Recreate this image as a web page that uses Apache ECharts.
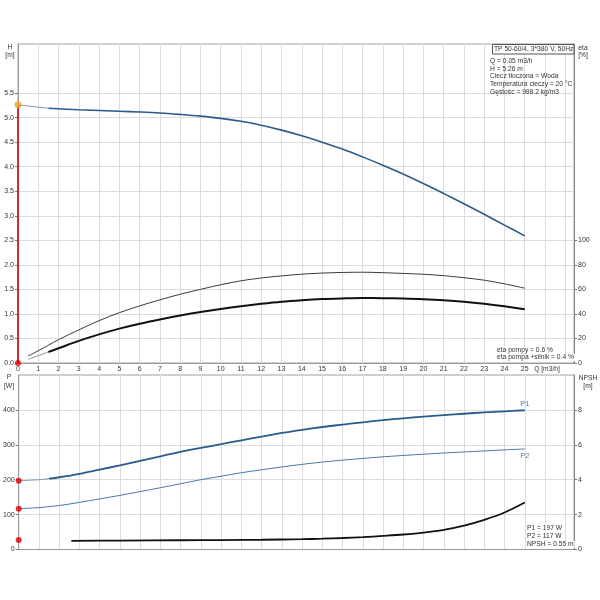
<!DOCTYPE html>
<html>
<head>
<meta charset="utf-8">
<script src="https://cdn.jsdelivr.net/npm/echarts@6/dist/echarts.min.js"></script>
<style>
  html, body { margin: 0; padding: 0; background: #fff; }
  #chart { width: 600px; height: 600px; }
</style>
</head>
<body>
<div id="chart"></div>
<script>
// Krzywe pompy
const qH = [0, 1.5, 3, 5, 6, 7, 8, 9, 10, 11, 12, 13, 14, 15, 16, 17, 18, 19, 20, 21, 22, 23, 24, 25];
const hVals = [5.26, 5.19, 5.16, 5.13, 5.115, 5.095, 5.065, 5.03, 4.985, 4.925, 4.845, 4.745, 4.63, 4.50, 4.36, 4.20, 4.03, 3.85, 3.655, 3.455, 3.245, 3.03, 2.81, 2.59];

const qEta = [0.5, 1, 1.5, 2, 3, 4, 5, 6, 7, 8, 9, 10, 11, 12, 13, 14, 15, 16, 17, 18, 19, 20, 21, 22, 23, 24, 25];
const etaPump = [5.7, 10, 14.5, 19, 27, 34.5, 41, 46.5, 51.5, 56, 60, 63.8, 67, 69.3, 71, 72.4, 73.3, 73.8, 74, 73.6, 73, 72.3, 71.2, 69.5, 67.5, 64.5, 61];
const etaTotal = [3, 6, 9, 12, 18, 23.3, 28, 32, 35.5, 38.7, 41.5, 44, 46.3, 48.3, 50, 51.2, 52.1, 52.6, 52.9, 52.8, 52.5, 52, 51.2, 50, 48.3, 46.2, 43.8];

const qP = [0, 1, 1.5, 2, 3, 4, 5, 6, 7, 8, 9, 10, 11, 12, 13, 14, 15, 16, 17, 18, 19, 20, 21, 22, 23, 24, 25];
const p1 = [197, 200, 203, 207, 217, 229, 241, 254, 267, 280, 291, 302, 313, 323.5, 334, 343, 351, 358, 364.5, 370.5, 376, 381, 385, 389, 393, 396, 399];
const p2 = [117, 120, 123, 126, 135, 145, 155, 166, 177, 188.5, 200, 210, 220, 228.5, 236.5, 244, 250.5, 256, 261, 265.5, 269.5, 273, 276.5, 279.5, 282.5, 285.5, 288];

const qN = [2.6, 5, 8, 10, 12, 14, 15, 16, 17, 18, 19, 20, 21, 22, 23, 24, 25];
const npsh = [0.5, 0.51, 0.53, 0.54, 0.56, 0.59, 0.62, 0.66, 0.71, 0.78, 0.86, 0.97, 1.13, 1.37, 1.70, 2.12, 2.69];

// punkt pracy
const dutyQ = 0;
const dutyH = 5.26;
const dutyP1 = 197;
const dutyP2 = 117;
const dutyNpsh = 0.55;

// opisane wartosci osi
const hTicks = [0, 0.5, 1, 1.5, 2, 2.5, 3, 3.5, 4, 4.5, 5, 5.5];
const etaTicks = [0, 20, 40, 60, 80, 100];
const pTicks = [0, 100, 200, 300, 400];
const npshTicks = [0, 2, 4, 6, 8];

const infoLines = [
  "Q = 0.05 m3/h",
  "H = 5.26 m",
  "Ciecz tłoczona = Woda",
  "Temperatura cieczy = 20 °C",
  "Gęstość = 998.2 kg/m3"
];
const etaLines = ["eta pompy = 0.6 %", "eta pompa +silnik = 0.4 %"];
const powerLines = ["P1 = 197 W", "P2 = 117 W", "NPSH = 0.55 m"];

const FONT = "'Liberation Sans', Arial, sans-serif";
const SMALL = `6.7px ${FONT}`;
const BLUE = "#2a5b8c";
const BLUE_LIGHT = "#4a77a6";
const GRID_LINE = "#dcdcdc";
const AXIS_LINE = "#9a9a9a";
const TXT = "#333";
const Q_MAX = 27.43;

const zip = (xs, ys) => xs.map((x, i) => [x, ys[i]]);

function xAxisFor(gridIndex, showLabels) {
  return {
    type: "value",
    gridIndex,
    min: 0,
    max: Q_MAX,
    interval: 1,
    axisLine: { show: true, lineStyle: { color: AXIS_LINE } },
    axisTick: { show: false },
    axisLabel: {
      show: showLabels,
      margin: 3,
      fontSize: 7,
      fontFamily: FONT,
      color: TXT,
      formatter: (v) => (v <= 25 && Number.isInteger(v) ? String(v) : "")
    },
    splitLine: { show: true, lineStyle: { color: GRID_LINE, width: 1 } }
  };
}

function yAxisFor(gridIndex, position, max, interval, ticks, fmt, split) {
  return {
    type: "value",
    gridIndex,
    position,
    min: 0,
    max,
    interval,
    axisLine: { show: true, lineStyle: { color: position === "right" ? "#888" : AXIS_LINE } },
    axisTick: { show: true, length: 3, customValues: ticks, lineStyle: { color: "#777" } },
    axisLabel: {
      margin: 4,
      fontSize: 7,
      fontFamily: FONT,
      color: TXT,
      customValues: ticks,
      formatter: (v) => fmt(v)
    },
    splitLine: { show: split, lineStyle: { color: GRID_LINE, width: 1 } }
  };
}

function line(name, data, xi, yi, color, width, extra) {
  return Object.assign({
    name,
    type: "line",
    xAxisIndex: xi,
    yAxisIndex: yi,
    data,
    smooth: 0.35,
    showSymbol: false,
    symbol: "none",
    silent: true,
    lineStyle: { color, width },
    z: 3
  }, extra || {});
}

function dot(data, xi, yi, color, size) {
  return {
    type: "scatter",
    xAxisIndex: xi,
    yAxisIndex: yi,
    data,
    symbolSize: size,
    itemStyle: { color },
    silent: true,
    z: 6
  };
}

function endTag(text, data, xi, yi, position) {
  return {
    type: "scatter",
    xAxisIndex: xi,
    yAxisIndex: yi,
    data,
    symbolSize: 1,
    itemStyle: { color: "rgba(0,0,0,0)" },
    silent: true,
    label: {
      show: true,
      position,
      distance: 2,
      formatter: text,
      fontSize: 7.5,
      fontFamily: FONT,
      color: BLUE
    },
    z: 6
  };
}

function label(text, x, y, align) {
  return { type: "text", x, y, z: 20, style: { text, font: SMALL, fill: TXT, align: align || "center", verticalAlign: "middle" } };
}

function textBlock(lines, x, y0, step, opts) {
  return lines.map((t, i) => ({
    type: "text",
    x,
    y: y0 + i * step,
    z: 20,
    style: Object.assign({
      text: t,
      font: SMALL,
      fill: TXT,
      verticalAlign: "middle"
    }, opts || {})
  }));
}

const chart = echarts.init(document.getElementById("chart"), null, { renderer: "canvas" });

const hThin = zip(qH.slice(0, 2), hVals.slice(0, 2));
const hThick = zip(qH.slice(1), hVals.slice(1));
const etaTotThin = zip(qEta.slice(0, 3), etaTotal.slice(0, 3));
const etaTotThick = zip(qEta.slice(2), etaTotal.slice(2));
const p1Thin = zip(qP.slice(0, 3), p1.slice(0, 3));
const p1Thick = zip(qP.slice(2), p1.slice(2));
const last = qP.length - 1;

chart.setOption({
  animation: false,
  backgroundColor: "#fff",
  grid: [
    { left: 18, right: 26, top: 44, height: 319, show: true, borderColor: "#a0a0a0", borderWidth: 1, containLabel: false },
    { left: 18, right: 26, top: 375, height: 174.5, show: true, borderColor: "#a0a0a0", borderWidth: 1, containLabel: false }
  ],
  xAxis: [xAxisFor(0, true), xAxisFor(1, false)],
  yAxis: [
    yAxisFor(0, "left", 6.5, 0.5, hTicks, (v) => v.toFixed(1), true),
    yAxisFor(0, "right", 260, 20, etaTicks, (v) => String(v), false),
    yAxisFor(1, "left", 500, 100, pTicks, (v) => String(v), true),
    yAxisFor(1, "right", 10, 2, npshTicks, (v) => String(v), false)
  ],
  series: [
    // linia punktu pracy
    line("duty", [[dutyQ, 0], [dutyQ, dutyH]], 0, 0, "#e00000", 1.5, { smooth: false, z: 5 }),
    line("H thin", hThin, 0, 0, "#7f97b3", 1, { smooth: false }),
    line("H", hThick, 0, 0, BLUE, 1.6),
    line("eta pompy", zip(qEta, etaPump), 0, 1, "#3a3a3a", 1),
    line("eta total thin", etaTotThin, 0, 1, "#8a8a8a", 1),
    line("eta pompa+silnik", etaTotThick, 0, 1, "#111", 2),
    dot([[dutyQ, 0]], 0, 0, "#e00000", 6),
    dot([[dutyQ, dutyH]], 0, 0, "#f5a623", 7),

    line("P1 thin", p1Thin, 1, 2, "#7f97b3", 1),
    line("P1", p1Thick, 1, 2, BLUE, 1.8),
    line("P2", zip(qP, p2), 1, 2, BLUE_LIGHT, 1),
    line("NPSH", zip(qN, npsh), 1, 3, "#111", 1.8),
    dot([[dutyQ, dutyP1], [dutyQ, dutyP2]], 1, 2, "#e00000", 6),
    dot([[dutyQ, dutyNpsh]], 1, 3, "#e00000", 6),
    endTag("P1", [[qP[last], p1[last]]], 1, 2, "top"),
    endTag("P2", [[qP[last], p2[last]]], 1, 2, "bottom")
  ],
  graphic: [
    // nazwy osi
    label("H", 10, 47),
    label("[m]", 10, 55),
    label("eta", 583, 48),
    label("[%]", 583, 55),
    label("P", 9, 377),
    label("[W]", 9, 386),
    label("NPSH", 588, 378),
    label("[m]", 588, 386),
    label("Q [m3/h]", 547, 369),

    // ramka z opisem pompy
    { type: "rect", z: 19, shape: { x: 492.5, y: 44.5, width: 81.5, height: 9.5 }, style: { fill: "#fff", stroke: "#555", lineWidth: 1 } },
    { type: "text", x: 494, y: 49.5, z: 20, style: { text: "TP 50-60/4, 3*380 V, 50Hz", font: SMALL, fill: TXT, verticalAlign: "middle" } },
    ...textBlock(infoLines, 490, 61, 7.7),
    ...textBlock(etaLines, 496, 350.5, 7, { backgroundColor: "#fff", padding: [0, 1, 0, 1] }),
    ...textBlock(powerLines, 526, 528.5, 8, { backgroundColor: "#fff", padding: [0, 1, 0, 1] })
  ]
});
</script>
</body>
</html>
